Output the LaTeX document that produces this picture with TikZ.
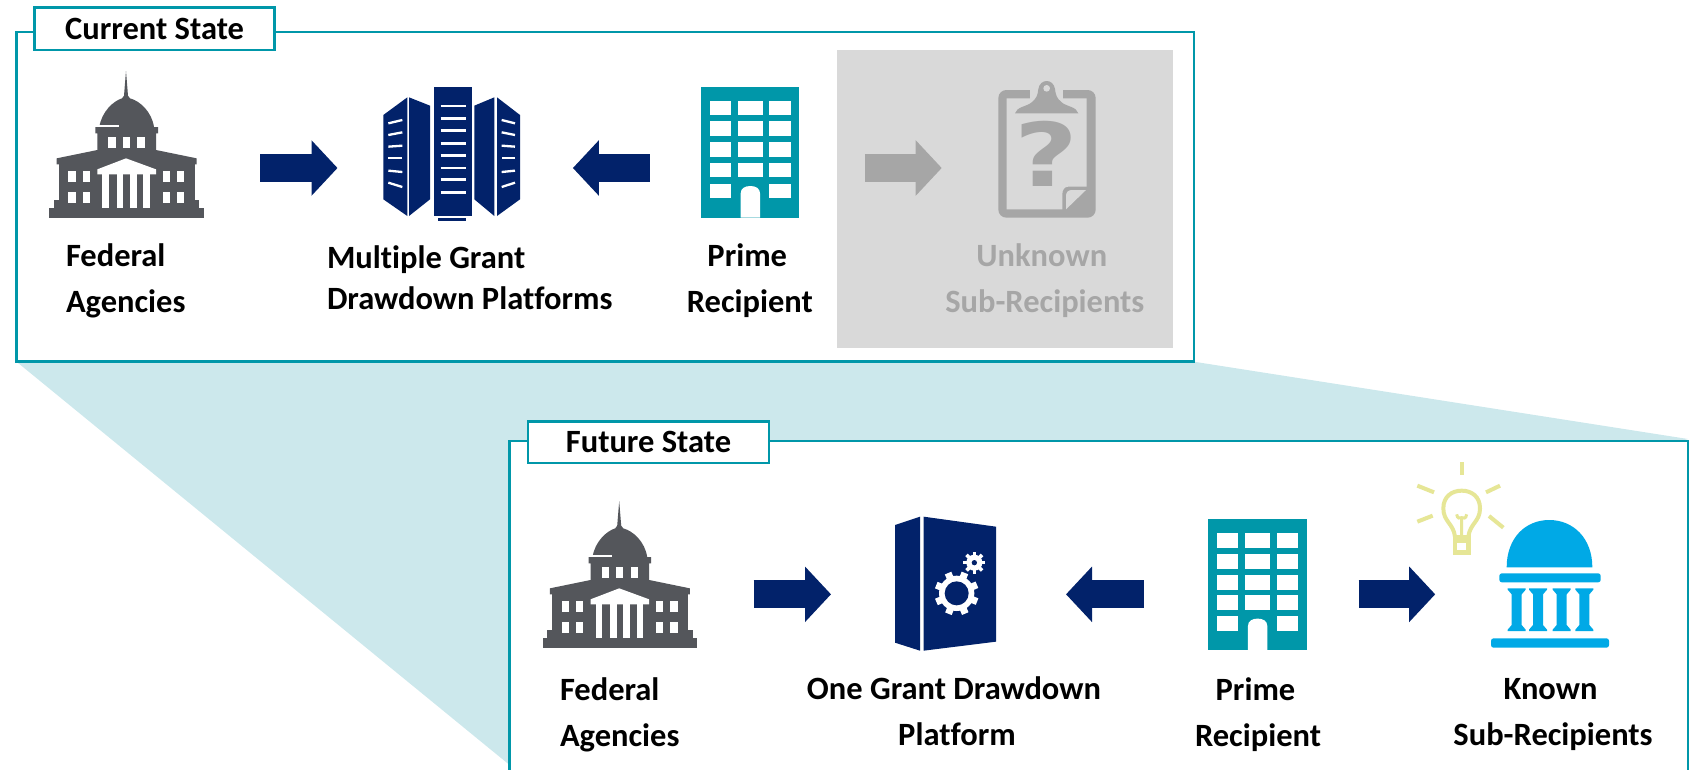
\documentclass[tikz,border=0pt]{standalone}
\usepackage{fontspec}
\setmainfont[Ligatures=NoCommon]{Carlito}
\newfontfamily\qfont{DejaVu Sans}
\usetikzlibrary{arrows.meta}
\definecolor{teal1}{HTML}{0097A9}
\definecolor{teallight}{HTML}{CCE8EC}
\definecolor{navy1}{HTML}{02226A}
\definecolor{gray1}{HTML}{54565B}
\definecolor{gray2}{HTML}{A6A6A6}
\definecolor{gray3}{HTML}{D9D9D9}
\definecolor{sky1}{HTML}{00A9E6}
\definecolor{bulb1}{HTML}{E6E696}
\tikzset{
  panel/.style={draw=teal1,line width=2.8pt,fill=white,inner sep=0pt,outer sep=0pt},
  tabbox/.style={draw=teal1,line width=2.8pt,fill=white,inner sep=0pt,outer sep=0pt,
    font=\fontsize{32.5}{36}\selectfont\bfseries,text=black},
  lbl/.style={inner sep=0pt,outer sep=0pt,align=center,text=black,
    font=\fontsize{32.5}{46}\selectfont\bfseries},
  slot/.style={inner sep=0pt,outer sep=0pt,minimum height=40pt},
  bigarrow/.style={navy1,line width=28pt,-{Triangle[length=26pt,width=54pt]}},
  capitol/.pic={
    \begin{scope}[scale=1/3]
      \fill[gray1] (28,430) rectangle (492,458);
      \fill[gray1] (42,405) rectangle (478,430);
      \fill[gray1] (56,298) rectangle (464,405);
      \fill[gray1] (50,298) -- (50,280) -- (172,255) -- (172,205) -- (166,205) -- (166,186) -- (178,186)
        .. controls (185,140) and (220,108) .. (246,100) -- (252,92) -- (258,18) -- (264,92) -- (270,100)
        .. controls (300,108) and (335,140) .. (342,186) -- (354,186) -- (354,205) -- (348,205) -- (348,255) -- (470,280) -- (470,298) -- cycle;
      \fill[white] (168,180) rectangle (236,186);
      \foreach \x in {205,248,292} \fill[white] (\x,215) rectangle ++(22,33);
      \foreach \x in {85,128,368,411} {
        \fill[white] (\x,317) rectangle ++(22,33);
        \fill[white] (\x,380) rectangle ++(22,33);
      }
      \fill[white] (172,313) -- (258,280) -- (348,313) -- (348,328) -- (172,328) -- cycle;
      \foreach \x in {187,230,270,310} \fill[white] (\x,328) rectangle ++(20,102);
    \end{scope}
  },
  office/.pic={
    \begin{scope}[scale=1/3]
      \fill[teal1] (33,35) rectangle (328,428);
      \foreach \y in {77,139,202,263,326} {
        \fill[white] (60,\y) rectangle ++(62,44);
        \fill[white] (238,\y) rectangle ++(64,44);
      }
      \foreach \y in {77,139,202,263} \fill[white] (143,\y) rectangle ++(75,44);
      \fill[white] (152,428) -- (152,355) .. controls (152,340) and (165,333) .. (181,333)
        .. controls (197,333) and (210,340) .. (210,355) -- (210,428) -- cycle;
    \end{scope}
  },
  towers/.pic={
    \begin{scope}[scale=1/3]
      \fill[navy1] (178,20) rectangle (290,408);
      \fill[navy1] (190,413) rectangle (272,422);
      \fill[navy1] (25,105) -- (97,52) -- (97,408) -- (25,358) -- cycle;
      \fill[navy1] (102,52) -- (165,77) -- (165,358) -- (102,408) -- cycle;
      \fill[navy1] (298,77) -- (358,52) -- (358,408) -- (298,358) -- cycle;
      \fill[navy1] (366,52) -- (435,105) -- (435,358) -- (366,408) -- cycle;
      \foreach \y in {78,116,152,190,226,264,298,337}
        \draw[white,line width=2.7pt] (197,\y) -- (272,\y);
      \foreach \a/\b in {130/120,165/157,200/197,235/235,272/276,308/321} {
        \draw[white,line width=2.3pt] (40,\a) -- (82,\b);
        \draw[white,line width=2.3pt] (420,\a) -- (380,\b);
      }
    \end{scope}
  },
  clipboard/.pic={
    \begin{scope}[scale=1/3]
      \fill[gray2,rounded corners=8pt] (40,45) rectangle (332,428);
      \fill[gray3] (65,70) -- (305,70) -- (305,335) -- (250,335)
        .. controls (238,335) and (232,345) .. (232,357) -- (232,403) -- (65,403) -- cycle;
      \fill[gray3] (243,403) -- (243,362) .. controls (243,352) and (250,345) .. (260,345) -- (303,345) -- cycle;
      \fill[gray3] (135,40) rectangle (235,72);
      \fill[gray2] (90,115) .. controls (95,95) and (125,95) .. (140,82)
        .. controls (155,70) and (158,60) .. (160,42) .. controls (165,10) and (205,10) .. (210,42)
        .. controls (212,60) and (215,70) .. (230,82) .. controls (245,95) and (275,95) .. (280,115) -- cycle;
      \fill[gray3] (185,40) circle[radius=10];
    \end{scope}
  },
  gearbook/.pic={
    \begin{scope}[scale=1/3]
      \fill[navy1] (30,45) -- (105,20) -- (105,422) -- (30,398) -- cycle;
      \fill[navy1] (116,20) -- (333,50) -- (333,395) -- (116,422) -- cycle;
      \begin{scope}[shift={(215,250)}]
        \foreach \a in {0,45,...,315} \draw[white,line width=7pt] (\a+22:50) -- (\a+22:66);
        \fill[white] (0,0) circle[radius=53];
        \fill[navy1] (0,0) circle[radius=36];
      \end{scope}
      \begin{scope}[shift={(268,158)}]
        \foreach \a in {0,45,...,315} \draw[white,line width=3.6pt] (\a:18) -- (\a:33);
        \fill[white] (0,0) circle[radius=24];
        \fill[navy1] (0,0) circle[radius=8];
      \end{scope}
    \end{scope}
  },
  bulbdome/.pic={
    \begin{scope}[scale=1/3]
      \begin{scope}[bulb1,line width=4pt]
        \draw (155,22) -- (155,60);
        \draw (22,92) -- (72,112);
        \draw (228,112) -- (270,92);
        \draw (22,200) -- (68,182);
        \draw (237,183) -- (280,218);
        \draw (135,258) -- (135,245) .. controls (130,205) and (100,200) .. (100,160)
          .. controls (100,125) and (125,107) .. (155,107)
          .. controls (185,107) and (210,125) .. (210,160)
          .. controls (210,200) and (180,205) .. (175,245) -- (175,258);
        \draw[line width=3pt] (155,240) -- (155,190) (140,178) .. controls (142,192) and (150,190) .. (155,188)
          .. controls (160,190) and (168,192) .. (170,178);
        \draw[line width=4.5pt] (135,258) -- (175,258) -- (175,293) -- (135,293) -- cycle;
        \fill (128,240) rectangle (182,262);
      \end{scope}
      \fill[sky1] (290,337) .. controls (290,250) and (345,195) .. (418,195)
        .. controls (490,195) and (547,250) .. (547,337) -- cycle;
      \fill[sky1,rounded corners=2.5pt] (268,355) rectangle (572,382);
      \fill[sky1,rounded corners=2.5pt] (243,550) rectangle (597,578);
      \foreach \x in {320,384,455,523}
        \fill[sky1] (\x-27,400) -- (\x+27,400) -- (\x+27,404) -- (\x+15,418) -- (\x+15,510) -- (\x+27,524) -- (\x+27,528)
          -- (\x-27,528) -- (\x-27,524) -- (\x-15,510) -- (\x-15,418) -- (\x-27,404) -- cycle;
    \end{scope}
  }
}
\begin{document}
\begin{tikzpicture}[x=1pt,y=-1pt]
  \useasboundingbox (0,0) rectangle (1696,769);
  \clip (0,0) rectangle (1696,769);
  % zoom funnel
  \fill[teallight] (16.5,361.7) -- (1194,361.7) -- (1688,439) -- (509.6,769) -- (509.6,765) -- cycle;
  % current state
  \node[panel,minimum width=1177.5pt,minimum height=329.7pt] (curpanel) at (605.25,196.85) {};
  \node[panel,fill=gray3,draw=none,minimum width=336.4pt,minimum height=298.6pt] (greybox) at (1004.7,199) {};
  \node[tabbox,minimum width=240.4pt,minimum height=42.5pt] (curtab) at (154.6,28.75) {Current State};
  % future state
  \draw[teal1,line width=2.8pt,fill=white] (509.6,800) -- (509.6,441) -- (1688,441) -- (1688,800);
  \node[tabbox,minimum width=241pt,minimum height=41.3pt] (futtab) at (648.5,442.4) {Future State};
  % icons
  \pic at (40,65) {capitol};
  \pic at (375,80) {towers};
  \pic at (690,75) {office};
  \pic at (985,75) {clipboard};
  \node[inner sep=0pt,text=gray2,font=\fontsize{88}{88}\qfont\bfseries,xscale=1.25,transform shape] (qmark) at (1046,154) {?};
  \pic at (533.2,495) {capitol};
  \pic at (885,510) {gearbook};
  \pic at (1197.3,507.6) {office};
  \pic at (1410,455) {bulbdome};
  % arrow end slots, current row
  \node[slot,minimum width=210pt] (fed1) at (155.2,168) {};
  \node[slot,minimum width=235.4pt] (plat1) at (455.2,168) {};
  \node[slot,minimum width=215pt] (prime1) at (757.3,168) {};
  \node[slot,minimum width=120pt] (unk1) at (1001.7,168) {};
  \draw[bigarrow] (fed1) -- (plat1);
  \draw[bigarrow] (prime1) -- (plat1);
  \draw[bigarrow,gray2] (prime1) -- (unk1);
  % arrow end slots, future row
  \node[slot,minimum width=210pt] (fed2) at (648.7,594.3) {};
  \node[slot,minimum width=235pt] (plat2) at (948.5,594.3) {};
  \node[slot,minimum width=215pt] (prime2) at (1251,594.3) {};
  \node[slot,minimum width=120pt] (sub2) at (1495.2,594.3) {};
  \draw[bigarrow] (fed2) -- (plat2);
  \draw[bigarrow] (prime2) -- (plat2);
  \draw[bigarrow] (prime2) -- (sub2);
  % labels
  \node[lbl,align=left,anchor=west] (fedlbl1) at (66,280.5) {Federal\\Agencies};
  \node[lbl,align=left,anchor=west,font=\fontsize{32.5}{41}\selectfont\bfseries] (platlbl1) at (327,278) {Multiple Grant\\Drawdown Platforms};
  \node[lbl] (primelbl1) at (749.8,280.5) {Prime\hspace*{5pt}\\Recipient};
  \node[lbl,text=gray2] (unklbl1) at (1044.8,280.5) {Unknown\hspace*{6pt}\\Sub-Recipients};
  \node[lbl,align=left,anchor=west] (fedlbl2) at (560,715) {Federal\\Agencies};
  \node[lbl] (platlbl2) at (954,711.5) {One Grant Drawdown\\\hspace*{6pt}Platform};
  \node[lbl] (primelbl2) at (1258,715) {Prime\hspace*{5pt}\\Recipient};
  \node[lbl] (sublbl2) at (1553,715) {Known\hspace*{5pt}\\Sub-Recipients};
\end{tikzpicture}
\end{document}
